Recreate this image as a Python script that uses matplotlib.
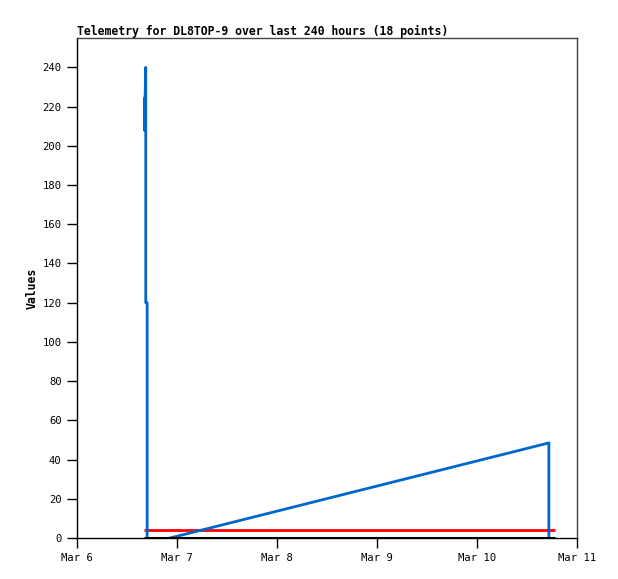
import matplotlib
matplotlib.use("Agg")
import matplotlib.pyplot as plt
from datetime import datetime

title = "Telemetry for DL8TOP-9 over last 240 hours (18 points)"
ylabel = "Values"

blue_times = ["2024-03-06 16:10", "2024-03-06 16:10", "2024-03-06 16:30", "2024-03-06 16:30",
              "2024-03-06 16:50", "2024-03-06 16:50", "2024-03-06 19:00", "2024-03-06 22:20",
              "2024-03-10 17:15", "2024-03-10 17:15"]
blue_values = [224, 208, 240, 120, 120, 0, None, 0, 48.5, 0]

red_times = ["2024-03-06 16:05", "2024-03-10 18:40"]
red_values = [4, 4]

black_times = ["2024-03-06 16:05", "2024-03-10 18:40"]
black_values = [0, 0]

xlim_dates = ["2024-03-06 00:00", "2024-03-11 00:00"]
xtick_dates = ["2024-03-06", "2024-03-07", "2024-03-08", "2024-03-09", "2024-03-10", "2024-03-11"]
xtick_labels = ["Mar 6", "Mar 7", "Mar 8", "Mar 9", "Mar 10", "Mar 11"]
yticks = [0, 20, 40, 60, 80, 100, 120, 140, 160, 180, 200, 220, 240]
ylim = (0, 255)

def parse(s):
    fmt = "%Y-%m-%d %H:%M" if ":" in s else "%Y-%m-%d"
    return datetime.strptime(s, fmt)

fig = plt.figure(figsize=(6.18, 5.79), dpi=100)
ax = fig.add_axes([77/618, 41/579, 500/618, 500/579])

mono = "DejaVu Sans Mono"
ax.plot([parse(t) for t in black_times], black_values, color="black", lw=2.2, solid_capstyle="butt", zorder=5)
ax.plot([parse(t) for t in red_times], red_values, color="#ff0000", lw=2, solid_capstyle="butt", zorder=3)
ax.plot([parse(t) for t in blue_times],
        [float("nan") if v is None else v for v in blue_values], color="#0066cc", lw=2, zorder=4)

ax.set_xlim(parse(xlim_dates[0]), parse(xlim_dates[1]))
ax.set_ylim(*ylim)
ax.set_xticks([parse(t) for t in xtick_dates])
ax.set_xticklabels(xtick_labels, family=mono, fontsize=7.6)
ax.set_yticks(yticks)
ax.set_yticklabels([str(v) for v in yticks], family=mono, fontsize=7.6)
ax.tick_params(direction="out", length=7, width=1, pad=4, colors="black")

for side in ["left", "bottom"]:
    ax.spines[side].set_color("black")
for side in ["top", "right"]:
    ax.spines[side].set_color("#444444")
for s in ax.spines.values():
    s.set_linewidth(1)

ax.set_ylabel(ylabel, family=mono, fontsize=8.3, fontweight="bold", labelpad=3)
ax.set_title(title, family=mono, fontsize=8.3, fontweight="bold", loc="left", pad=2)

fig.savefig("out.png", dpi=100)
